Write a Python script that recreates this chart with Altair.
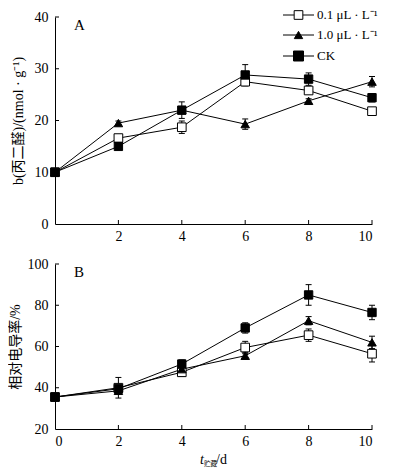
import altair as alt
import pandas as pd

days = [0, 2, 4, 6, 8, 10]
series = ["0.1 μL · L⁻¹", "1.0 μL · L⁻¹", "CK"]

mda_01 = [10.0, 16.6, 18.7, 27.5, 25.8, 21.8]
mda_10 = [10.0, 19.5, 22.0, 19.3, 23.8, 27.5]
mda_ck = [10.0, 15.0, 22.0, 28.8, 28.0, 24.4]
mda_01_err = [0.2, 0.5, 1.2, 0.8, 0.6, 0.5]
mda_10_err = [0.2, 0.4, 0.4, 1.0, 0.4, 1.0]
mda_ck_err = [0.2, 0.5, 1.6, 2.0, 1.2, 0.8]

ec_01 = [35.5, 40.0, 47.5, 59.5, 65.5, 56.5]
ec_10 = [35.5, 38.5, 49.0, 55.5, 72.5, 62.0]
ec_ck = [35.5, 39.5, 51.5, 69.0, 85.0, 76.5]
ec_01_err = [0.5, 5.0, 2.0, 3.0, 3.0, 4.0]
ec_10_err = [0.5, 1.0, 1.5, 1.5, 2.0, 3.0]
ec_ck_err = [0.5, 1.5, 2.0, 2.5, 5.0, 3.5]

SERIF = "Liberation Serif, Noto Sans CJK SC"
W = 317
shapes = ["square", "triangle-up", "square"]
fills = ["white", "black", "black"]
sizes = [75, 70, 100]


def make_df(vals, errs):
    rows = []
    for si, s in enumerate(series):
        for d, v, e in zip(days, vals[si], errs[si]):
            rows.append({"series": s, "order": si, "day": d, "value": v,
                         "lo": v - e, "hi": v + e})
    return pd.DataFrame(rows)


def panel(vals, errs, ydom, ystep, height, xvals, ytitle, tpad, label, legend):
    df = make_df(vals, errs)
    xs = alt.Scale(domain=[0, 10], nice=False, zero=False)
    ys = alt.Scale(domain=ydom, nice=False, zero=False)
    xax = alt.Axis(values=xvals, title=None, labelPadding=5)
    yax = alt.Axis(values=list(range(ydom[0], ydom[1] + 1, ystep)), title=ytitle,
                   titlePadding=tpad, labelPadding=7)
    base = alt.Chart(df)
    line = base.mark_line(color="black", strokeWidth=1).encode(
        x=alt.X("day:Q", scale=xs, axis=xax),
        y=alt.Y("value:Q", scale=ys, axis=yax),
        detail="series:N",
        order="day:Q",
    )
    err = base.mark_rule(color="black", strokeWidth=1).encode(
        x=alt.X("day:Q", scale=xs, axis=xax),
        y=alt.Y("lo:Q", scale=ys, axis=yax), y2="hi:Q")
    cap_hi = base.mark_tick(orient="horizontal", size=6, thickness=1, color="black", opacity=1).encode(
        x=alt.X("day:Q", scale=xs, axis=xax), y=alt.Y("hi:Q", scale=ys, axis=yax))
    cap_lo = base.mark_tick(orient="horizontal", size=6, thickness=1, color="black", opacity=1).encode(
        x=alt.X("day:Q", scale=xs, axis=xax), y=alt.Y("lo:Q", scale=ys, axis=yax))
    pts = base.mark_point(filled=True, stroke="black", strokeWidth=1, opacity=1).encode(
        x=alt.X("day:Q", scale=xs, axis=xax),
        y=alt.Y("value:Q", scale=ys, axis=yax),
        shape=alt.Shape("series:N", scale=alt.Scale(domain=series, range=shapes), legend=None),
        fill=alt.Fill("series:N", scale=alt.Scale(domain=series, range=fills), legend=None),
        size=alt.Size("series:N", scale=alt.Scale(domain=series, range=sizes), legend=None),
        order="order:Q",
    )
    xt = alt.Chart(pd.DataFrame({"day": [v for v in xvals if v > 0]})).mark_rule(
        color="black", strokeWidth=1).encode(
        x=alt.X("day:Q", scale=xs, axis=xax), y=alt.value(height), y2=alt.value(height - 4))
    yt = alt.Chart(pd.DataFrame({"value": list(range(ydom[0] + ystep, ydom[1] + 1, ystep))})).mark_rule(
        color="black", strokeWidth=1).encode(
        y=alt.Y("value:Q", scale=ys, axis=yax), x=alt.value(0), x2=alt.value(4))
    lab = alt.Chart(pd.DataFrame({"t": [label]})).mark_text(
        font="Liberation Serif", fontSize=15, align="left", baseline="middle", color="black").encode(
        text="t:N", x=alt.value(19), y=alt.value(8))
    layers = [line, err, cap_hi, cap_lo, pts, xt, yt, lab]
    if legend:
        rows_y = [-2, 18, 39]
        for si, s in enumerate(series):
            one = pd.DataFrame({"series": [s]})
            c = alt.Chart(one)
            layers.append(c.mark_rule(color="black", strokeWidth=1).encode(
                x=alt.value(228), x2=alt.value(259), y=alt.value(rows_y[si])))
            layers.append(c.mark_point(filled=True, stroke="black", strokeWidth=1, opacity=1,
                                       shape=shapes[si], fill=fills[si], size=sizes[si]).encode(
                x=alt.value(243.5), y=alt.value(rows_y[si])))
            layers.append(c.mark_text(font=SERIF, fontSize=13, align="left", baseline="middle",
                                      color="black").encode(
                text="series:N", x=alt.value(262), y=alt.value(rows_y[si])))
    else:
        t1 = alt.Chart(pd.DataFrame({"t": ["t"]})).mark_text(
            font="Liberation Serif", fontSize=14, fontStyle="italic", align="left",
            baseline="alphabetic", color="black").encode(text="t:N", x=alt.value(145), y=alt.value(200))
        t2 = alt.Chart(pd.DataFrame({"t": ["贮藏"]})).mark_text(
            font="Noto Sans CJK SC", fontSize=6.5, align="left",
            baseline="alphabetic", color="black").encode(text="t:N", x=alt.value(149), y=alt.value(202))
        t3 = alt.Chart(pd.DataFrame({"t": ["/d"]})).mark_text(
            font="Liberation Serif", fontSize=14, align="left",
            baseline="alphabetic", color="black").encode(text="t:N", x=alt.value(161), y=alt.value(200))
        layers += [t1, t2, t3]
    return alt.layer(*layers).properties(width=W, height=height)


top = panel([mda_01, mda_10, mda_ck], [mda_01_err, mda_10_err, mda_ck_err],
            [0, 40], 10, 207, [2, 4, 6, 8, 10], "b(丙二醛)/(nmol · g⁻¹)", 9, "A", True)
bottom = panel([ec_01, ec_10, ec_ck], [ec_01_err, ec_10_err, ec_ck_err],
               [20, 100], 20, 165, [0, 2, 4, 6, 8, 10], "相对电导率/%", 5, "B", False)

chart = alt.vconcat(top, bottom, spacing=14, padding=0).configure(background="white").configure_view(
    stroke=None).configure_axis(
    domainColor="black", domainWidth=1, ticks=False, grid=False,
    labelFont="Liberation Serif", labelFontSize=14, labelColor="black",
    titleFont=SERIF, titleFontSize=14, titleFontWeight="normal", titleColor="black",
)

chart.save("out.html", embed_options={"renderer": "svg", "actions": False})
